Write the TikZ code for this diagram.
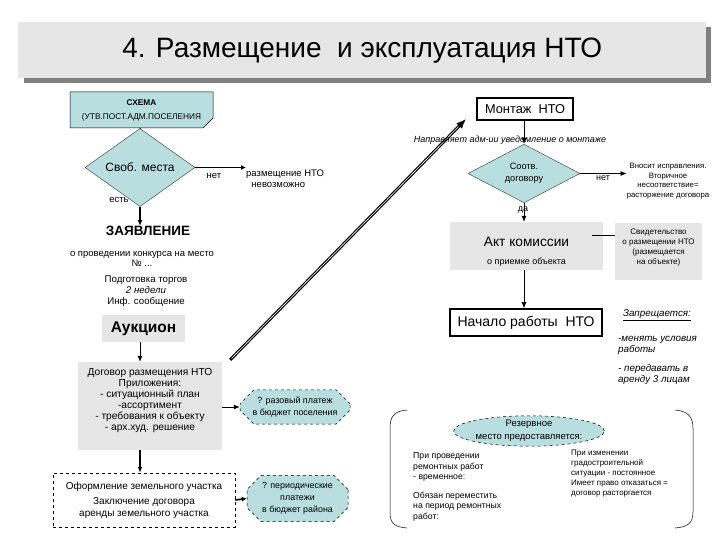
\documentclass[tikz,border=0pt]{standalone}
\usepackage{fontspec}
\setmainfont{Liberation Sans}
\usetikzlibrary{arrows.meta,shapes.geometric,shapes.misc}
\newcommand{\fsz}[2]{\fontsize{#1}{#2}\selectfont}
\definecolor{cyanf}{HTML}{B9DEDF}
\definecolor{grayf}{HTML}{E6E6E6}
\definecolor{shad}{HTML}{808080}
\begin{document}
\begin{tikzpicture}[x=1pt,y=-1pt,
  arr/.style={-{Latex[length=6pt,width=5pt]}, line width=0.7pt},
  thickarr/.style={-{Latex[length=5pt,width=5pt]}, line width=1.6pt},
  graybox/.style={rectangle, fill=grayf, inner sep=0pt},
  boldbox/.style={rectangle, draw=black, line width=1.6pt, fill=white, inner sep=0pt},
  dia/.style={diamond, draw=black!70, fill=cyanf, inner sep=0pt, line width=0.5pt},
  hexa/.style={chamfered rectangle, chamfered rectangle xsep=7pt, chamfered rectangle ysep=7pt, draw=black, dashed, fill=cyanf, inner sep=0pt, line width=0.5pt, align=center, font=\fsz{8.9}{12}},
  txt/.style={inner sep=0pt, align=center},
  ltxt/.style={inner sep=0pt, align=left, anchor=north west}
]
\useasboundingbox (0,0) rectangle (720,540);

% title banner
\fill[shad] (24,27) rectangle (711,83);
\node[fill=grayf, minimum width=688pt, minimum height=56pt, inner sep=0pt, anchor=north west, font=\fsz{28}{32}] (title) at (18,22) {4. Размещение\ \ и эксплуатация НТО};

% left column
\node[chamfered rectangle, chamfered rectangle corners=south east, chamfered rectangle xsep=5pt, chamfered rectangle ysep=5pt, draw=black, fill=cyanf, minimum width=143pt, minimum height=36pt, inner sep=0pt, align=center, font=\fsz{8.3}{14}, line width=0.5pt] (schema) at (141.5,110) {\textbf{СХЕМА}\\(УТВ.ПОСТ.АДМ.ПОСЕЛЕНИЯ};
\node[dia, minimum width=110pt, minimum height=45pt, font=\fsz{12}{14}] (svob) at (140,167.5) {Своб. места};
\draw[line width=0.5pt] (schema.south -| svob.north) -- (svob.north);
\node[ltxt, font=\fsz{9.5}{11}] (nevoz) at (246,169.5) {размещение НТО\\\ \ невозможно};
\draw[thickarr] (svob.east) -- (svob.east -| nevoz.west);
\node[txt, font=\fsz{9.5}{10}] (net1) at (214,176) {нет};
\node[txt, font=\fsz{9.5}{10}] (est) at (119,200) {есть};

\node[txt, font=\bfseries\fsz{13.5}{15}] (zayav) at (148,231) {ЗАЯВЛЕНИЕ};
\draw[arr, line width=1.2pt] (svob.south) -- (svob.south |- zayav.north);
\node[txt, font=\fsz{9.5}{9.5}] (konk) at (142,259) {о проведении конкурса на место\\№ ...};
\node[txt, font=\fsz{9.7}{11.2}] (torg) at (146,291) {Подготовка торгов\\\textit{2 недели}\\Инф. сообщение};
\node[graybox, minimum width=83pt, minimum height=27pt, font=\bfseries\fsz{15.5}{17}] (auk) at (143.5,328.5) {Аукцион};

\node[graybox, minimum width=144pt, minimum height=88pt] (dog) at (150,406) {};
\node[txt, font=\fsz{10.2}{11.1}] (dogt) at (150,400.5) {Договор размещения НТО\\Приложения:\\- ситуационный план\\-ассортимент\\- требования к объекту\\- арх.худ. решение};
\draw[arr] (auk.south -| 140,0) -- (dog.north -| 140,0);

\node[hexa, minimum width=110pt, minimum height=32pt] (hex1) at (295,407) {? разовый платеж\\в бюджет поселения};
\draw[arr] (dog.east |- hex1.west) -- (hex1.west);

\node[rectangle, draw=black, dashed, line width=0.5pt, minimum width=182pt, minimum height=54pt, inner sep=0pt, align=center, font=\fsz{10}{11.5}] (ofo) at (144,500) {Оформление земельного участка\\[4pt]Заключение договора\\аренды земельного участка};
\draw[arr, line width=1.2pt] (dog.south -| 140,0) -- (ofo.north -| 140,0);
\node[hexa, minimum width=101pt, minimum height=43pt] (hex2) at (297.5,498.5) {? периодические\\платежи\\в бюджет района};
\draw[thickarr] (ofo.east) -- (hex2.west);

% right column
\node[boldbox, minimum width=96pt, minimum height=22pt, font=\fsz{12.8}{14}] (mont) at (525,109) {Монтаж\ \ НТО};
\draw[-{Latex[length=10pt,width=8pt]}, line width=3pt] ([shift={(8,-2)}]dog.north east) -- ([shift={(-10,-2)}]mont.south west);
\draw[white, line width=0.6pt, shorten >=11pt, shorten <=2pt] ([shift={(8,-2)}]dog.north east) -- ([shift={(-10,-2)}]mont.south west);

\node[dia, minimum width=112pt, minimum height=43pt, align=center, font=\fsz{9.2}{12}] (soot) at (524,173.5) {Соотв.\\договору};
\draw[arr] (mont.south -| soot.north) -- (soot.north);
\node[txt, font=\itshape\fsz{9}{9}] (napr) at (510,140) {Направляет адм-ии уведомление о монтаже};

\node[txt, font=\fsz{7.8}{9.6}] (vnos) at (668,181) {Вносит исправления.\\Вторичное\\несоответствие=\\расторжение договора};
\draw[arr] (soot.east) -- (soot.east -| vnos.west);
\node[txt, font=\fsz{9}{10}] (net2) at (603,178) {нет};

\node[graybox, minimum width=153pt, minimum height=48pt] (akt) at (526.5,246) {};
\node[txt, font=\fsz{13.7}{15}] (aktt) at (526.5,242) {Акт комиссии};
\node[txt, font=\fsz{9}{10}] (aktp) at (526.5,262) {о приемке объекта};
\draw[arr] (soot.south) -- (akt.north -| soot.south);
\node[txt, font=\fsz{9}{10}] (da) at (523,210) {да};

\node[graybox, minimum width=87pt, minimum height=57pt] (svid) at (658.5,251.5) {};
\node[txt, font=\fsz{8}{10}] (svidt) at (658.5,248) {Свидетельство\\о размещении НТО\\(размещается\\на объекте)};
\draw[line width=0.6pt] ([xshift=-11pt,yshift=11pt]akt.east) -- ([yshift=16.5pt]svid.west);

\node[boldbox, minimum width=152pt, minimum height=27pt, font=\fsz{14}{16}] (nach) at (526,322.5) {Начало работы\ \ НТО};
\draw[arr] (akt.south -| 524,0) -- (nach.north -| 524,0);

\node[txt, font=\itshape\fsz{9.8}{10}] (zapr) at (657,315) {\underline{Запрещается:}};
\node[ltxt, font=\itshape\fsz{9.8}{11}] (zapr1) at (618,336) {-менять условия\\работы};
\node[ltxt, font=\itshape\fsz{9.8}{11}] (zapr2) at (618,364) {- передавать в\\аренду 3 лицам};

% bottom right group
\draw[line width=0.5pt] (407,410) .. controls (394,411) and (390,417) .. (390,428) -- (390,512) .. controls (390,523) and (394,527) .. (407,528);
\draw[line width=0.5pt] (675,410) .. controls (688,411) and (693,417) .. (693,428) -- (693,512) .. controls (693,523) and (688,527) .. (675,528);
\node[ellipse, draw=black, dashed, fill=cyanf, line width=0.5pt, minimum width=139pt, minimum height=28pt, inner sep=0pt, align=center, font=\fsz{9.5}{13}] (rez) at (529,431) {Резервное\\место предоставляется:};
\node[ltxt, font=\fsz{8.7}{10.5}] (rem1) at (413,452.5) {При проведении\\ремонтных работ\\- временное:};
\node[ltxt, font=\fsz{8.7}{10.5}] (rem2) at (413,491.5) {Обязан переместить\\на период ремонтных\\работ:};
\node[ltxt, font=\fsz{8}{10}] (izm) at (571,450) {При изменении\\градостроительной\\ситуации - постоянное\\Имеет право отказаться =\\договор расторгается};
\end{tikzpicture}
\end{document}
